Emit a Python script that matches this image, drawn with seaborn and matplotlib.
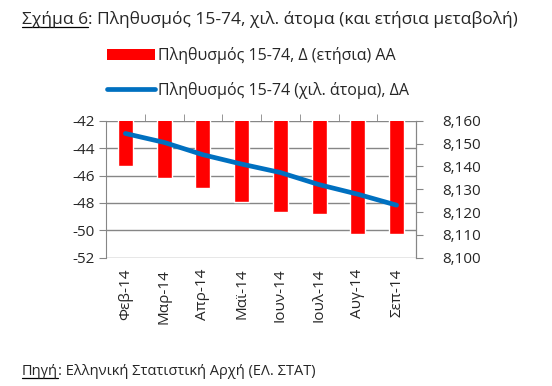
import numpy as np
import pandas as pd
import matplotlib
matplotlib.use("Agg")
import matplotlib.pyplot as plt
import seaborn as sns
from matplotlib.lines import Line2D
from matplotlib.patches import Patch

# Data
months = ["Φεβ-14", "Μαρ-14", "Απρ-14", "Μαϊ-14", "Ιουν-14", "Ιουλ-14", "Αυγ-14", "Σεπ-14"]
annual_change = [-45.3, -46.2, -46.9, -47.9, -48.7, -48.8, -50.3, -50.3]
population = [8154.4, 8150.5, 8145.1, 8141.0, 8137.3, 8132.0, 8127.8, 8123.0]

bar_label = "Πληθυσμός 15-74, Δ (ετήσια) ΑΑ"
line_label = "Πληθυσμός 15-74 (χιλ. άτομα), ΔΑ"

sns.set_style("white")
plt.rcParams["font.family"] = ["Open Sans", "DejaVu Sans"]
plt.rcParams["axes.unicode_minus"] = False

red = "#FF0000"
blue = "#0070C0"
grey = "#868686"

df = pd.DataFrame({"month": months, "change": annual_change, "pop": population})
df["pos"] = np.arange(len(df))

fig = plt.figure(figsize=(5.52, 3.86), dpi=100)
ax = fig.add_axes([106 / 552, 1 - 257.7 / 386, 310 / 552, 137 / 386])

# --------------------------------------------------
# Bars (left axis)
# --------------------------------------------------
sns.barplot(data=df, x="month", y="change", color=red, width=0.39,
            saturation=1, ax=ax, zorder=2)
ax.set_ylim(-52, -42)
ax.set_yticks(np.arange(-52, -41, 2))
ax.set_xlim(-0.5, len(df) - 0.5)
ax.set_xlabel("")
ax.set_ylabel("")
ax.yaxis.grid(True, color=grey, linewidth=1)
ax.set_axisbelow(True)
for s in ["top", "bottom"]:
    ax.spines[s].set_visible(False)
for s in ["left", "right"]:
    ax.spines[s].set_color(grey)
ax.tick_params(axis="y", direction="out", length=5, color=grey, left=True,
               labelsize=11, pad=3)
ax.tick_params(axis="x", length=0, labelsize=11, pad=8, rotation=90)

# --------------------------------------------------
# Line (right axis)
# --------------------------------------------------
ax2 = ax.twinx()
sns.lineplot(data=df, x="pos", y="pop", color=blue, linewidth=3.4,
             ax=ax2, solid_capstyle="round")
ax2.set_ylim(8100, 8160)
ax2.set_yticks(np.arange(8100, 8161, 10))
ax2.set_yticklabels([f"{v:,}" for v in range(8100, 8161, 10)])
ax2.set_xlim(-0.5, len(df) - 0.5)
ax2.set_ylabel("")
ax2.set_xlabel("")
for s in ["top", "bottom", "left"]:
    ax2.spines[s].set_visible(False)
ax2.spines["right"].set_color(grey)
ax2.tick_params(axis="y", direction="out", length=5, color=grey, right=True,
                labelsize=11, pad=14)
ax2.grid(False)

# small category ticks on the top line
ax.set_xticks(np.arange(len(df)))
ax.set_xticklabels(months)
ax.set_xticks(np.arange(0.5, len(df) - 1, 1), minor=True)
ax.tick_params(axis="x", which="minor", top=True, bottom=False,
               direction="out", length=5, color=grey)

# --------------------------------------------------
# Legend
# --------------------------------------------------
handles = [Patch(facecolor=red, edgecolor="none"),
           Line2D([0], [0], color=blue, linewidth=3.4, solid_capstyle="round")]
fig.legend(handles, [bar_label, line_label], loc="upper left",
           bbox_to_anchor=(101 / 552, 1 - 41 / 386), frameon=False,
           fontsize=11.5, handlelength=3.0, handletextpad=0.2,
           labelspacing=1.1, borderaxespad=0)

# --------------------------------------------------
# Title and source with underlined prefix
# --------------------------------------------------
def underlined_text(x, y, first, rest, size):
    t1 = fig.text(x, y, first, fontsize=size, va="baseline")
    fig.canvas.draw()
    bb = t1.get_window_extent()
    inv = fig.transFigure.inverted()
    (x0, y0), (x1, _) = inv.transform([(bb.x0, bb.y0), (bb.x1, bb.y0)])
    fig.text(x1, y, rest, fontsize=size, va="baseline")
    ly = y - 2.5 / 386
    fig.add_artist(Line2D([x0, x1], [ly, ly], color="black", linewidth=0.9,
                          transform=fig.transFigure))

underlined_text(22 / 552, 1 - 24 / 386, "Σχήμα 6", ": Πληθυσμός 15-74, χιλ. άτομα (και ετήσια μεταβολή)", 12.5)
underlined_text(22 / 552, 1 - 375 / 386, "Πηγή", ": Ελληνική Στατιστική Αρχή (ΕΛ. ΣΤΑΤ)", 10.5)

fig.savefig("out.png", dpi=100)
